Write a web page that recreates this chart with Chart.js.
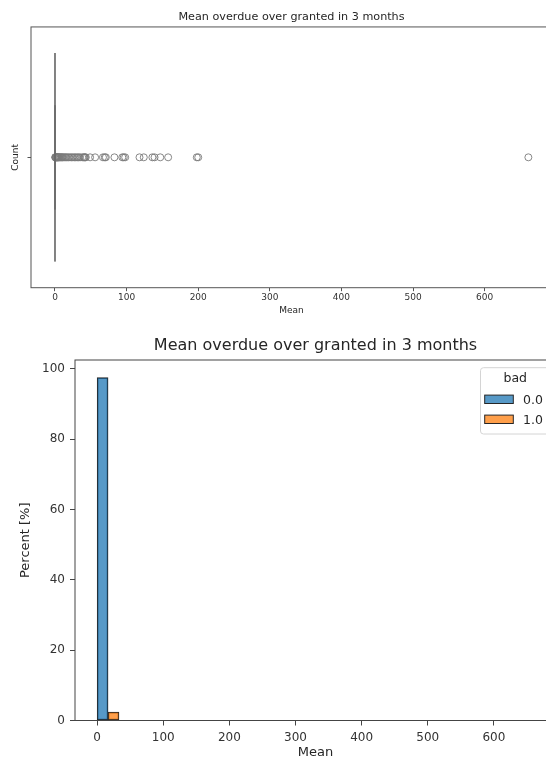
<!DOCTYPE html>
<html lang="en">
<head>
<meta charset="UTF-8">
<title>Mean overdue over granted in 3 months</title>
<script src="https://cdn.jsdelivr.net/npm/chart.js"></script>
<style>
  html, body { margin: 0; padding: 0; background: #fff; overflow: hidden; }
  body { width: 546px; height: 765px; position: relative; }
  #boxWrap { position: absolute; left: 0; top: 0; width: 560px; height: 320px; }
  #histWrap { position: absolute; left: 0; top: 320px; width: 564px; height: 445px; }
</style>
</head>
<body>
<div id="boxWrap"><canvas id="boxChart" width="560" height="320"></canvas></div>
<div id="histWrap"><canvas id="histChart" width="564" height="445"></canvas></div>
<script>
const chartTitle = 'Mean overdue over granted in 3 months';
const xTicks = [0, 100, 200, 300, 400, 500, 600];
const percentTicks = [0, 20, 40, 60, 80, 100];

// boxplot summary - quartiles and whiskers all collapse onto 0
const boxQ1 = 0, boxMedian = 0, boxQ3 = 0, whiskerLow = 0, whiskerHigh = 0;
const outliers = [0.3, 0.6, 0.9, 1.2, 1.6, 2, 2.5, 3, 3.5, 4, 4.6, 5.3, 6, 7, 8, 9, 10, 11,
  12.5, 14, 15.5, 17, 19, 21, 23, 25, 27, 29, 31, 33, 35, 38, 40, 41, 42, 43, 49, 56,
  67, 69.5, 71, 83, 94, 96, 98, 118, 124, 136, 139, 147, 158, 198, 200, 661];

// histogram (percent of all rows), dodged by "bad"
const binCenters = [16.5, 49.5, 82.5, 115.5, 148.5, 181.5, 214.5, 247.5, 280.5, 313.5,
  346.5, 379.5, 412.5, 445.5, 478.5, 511.5, 544.5, 577.5, 610.5, 643.5];
const pctBad0 = [97.5, 0, 0, 0, 0, 0, 0, 0, 0, 0, 0, 0, 0, 0, 0, 0, 0, 0, 0, 0];
const pctBad1 = [2.4, 0, 0, 0, 0, 0, 0, 0, 0, 0, 0, 0, 0, 0, 0, 0, 0, 0, 0, 0];
const hueTitle = 'bad';
const hueLabels = ['0.0', '1.0'];

Chart.defaults.font.family = '"DejaVu Sans", sans-serif';
Chart.defaults.color = '#333';
Chart.defaults.animation = false;

const textColor = '#262626';
const boxGray = '#6b6b6b';

// axes box drawn like matplotlib spines
const plotFrame = {
    id: 'plotFrame',
    afterDatasetsDraw(chart, args, opts) {
        const a = chart.chartArea, ctx = chart.ctx;
        ctx.save();
        ctx.strokeStyle = opts.color || '#444';
        ctx.lineWidth = 1;
        ctx.strokeRect(a.left, a.top, a.width, a.height);
        ctx.restore();
    }
};

// legend box in the top right corner of the plot
const hueLegend = {
    id: 'hueLegend',
    afterDraw(chart) {
        const ctx = chart.ctx, a = chart.chartArea;
        const left = a.right - 75.5, top = a.top + 7.7, w = 69.5, h = 66.3;
        ctx.save();
        ctx.beginPath();
        ctx.roundRect(left, top, w, h, 3);
        ctx.fillStyle = 'rgba(255,255,255,0.8)';
        ctx.fill();
        ctx.strokeStyle = '#d4d4d4';
        ctx.lineWidth = 1;
        ctx.stroke();
        ctx.font = '12.5px "DejaVu Sans"';
        ctx.fillStyle = textColor;
        ctx.textAlign = 'center';
        ctx.textBaseline = 'middle';
        ctx.fillText(hueTitle, left + w / 2, top + 11);
        chart.data.datasets.forEach((ds, i) => {
            const cy = top + 31.6 + i * 20;
            ctx.fillStyle = ds.backgroundColor;
            ctx.fillRect(left + 4.2, cy - 4.2, 28.6, 8.4);
            ctx.strokeStyle = ds.borderColor;
            ctx.strokeRect(left + 4.2, cy - 4.2, 28.6, 8.4);
            ctx.fillStyle = textColor;
            ctx.textAlign = 'left';
            ctx.fillText(ds.label, left + 42.5, cy + 1);
        });
        ctx.restore();
    }
};

function seg(x0, y0, x1, y1) {
    return [{x: x0, y: y0}, {x: x1, y: y1}];
}
const lineStyle = {
    showLine: true, borderColor: boxGray, borderWidth: 1.2,
    pointRadius: 0, fill: false
};

// ---- top: horizontal boxplot ----
new Chart(document.getElementById('boxChart'), {
    type: 'scatter',
    data: {
        datasets: [
            Object.assign({data: [
                {x: boxQ1, y: -0.4}, {x: boxQ3, y: -0.4}, {x: boxQ3, y: 0.4},
                {x: boxQ1, y: 0.4}, {x: boxQ1, y: -0.4}]}, lineStyle),
            Object.assign({data: seg(boxMedian, -0.4, boxMedian, 0.4)}, lineStyle),
            Object.assign({data: seg(whiskerLow, 0, boxQ1, 0)}, lineStyle),
            Object.assign({data: seg(boxQ3, 0, whiskerHigh, 0)}, lineStyle),
            Object.assign({data: seg(whiskerLow, -0.2, whiskerLow, 0.2)}, lineStyle),
            Object.assign({data: seg(whiskerHigh, -0.2, whiskerHigh, 0.2)}, lineStyle),
            {
                data: outliers.map(v => ({x: v, y: 0})),
                pointRadius: 3.5,
                pointBorderWidth: 0.9,
                pointBackgroundColor: 'rgba(0,0,0,0)',
                pointBorderColor: '#7a7a7a'
            }
        ]
    },
    options: {
        responsive: false,
        layout: {padding: {left: 0, right: 8, top: 0, bottom: 0}},
        plugins: {
            legend: {display: false},
            tooltip: {enabled: false},
            title: {
                display: true, text: chartTitle, fullSize: false, color: textColor,
                font: {size: 11.2, weight: 'normal'}, padding: {top: 10.1, bottom: 3.4}
            },
            plotFrame: {color: '#555'}
        },
        scales: {
            x: {
                type: 'linear', min: -33.5, max: 694,
                afterBuildTicks: s => { s.ticks = xTicks.map(v => ({value: v})); },
                afterFit: s => { s.height = 32.3; },
                ticks: {font: {size: 9}, padding: 1, maxRotation: 0},
                grid: {drawOnChartArea: false, tickLength: 3.5, tickColor: '#555'},
                border: {display: false},
                title: {display: true, text: 'Mean', color: textColor, font: {size: 9}, padding: {top: 0, bottom: 3.6}}
            },
            y: {
                type: 'linear', min: -0.5, max: 0.5,
                afterBuildTicks: s => { s.ticks = [{value: 0}]; },
                afterFit: s => { s.width = 31; },
                ticks: {callback: () => ''},
                grid: {drawOnChartArea: false, tickLength: 3.5, tickColor: '#555'},
                border: {display: false},
                title: {display: true, text: 'Count', color: textColor, font: {size: 9}, padding: {top: 10.3, bottom: 0}}
            }
        }
    },
    plugins: [plotFrame]
});

// ---- bottom: percent histogram split by "bad" ----
new Chart(document.getElementById('histChart'), {
    type: 'bar',
    data: {
        datasets: [
            {
                label: hueLabels[0],
                data: binCenters.map((x, i) => ({x: x, y: pctBad0[i]})),
                backgroundColor: 'rgba(31,119,180,0.75)',
                borderColor: '#262626', borderWidth: 1, borderSkipped: false,
                barPercentage: 1, categoryPercentage: 1
            },
            {
                label: hueLabels[1],
                data: binCenters.map((x, i) => ({x: x, y: pctBad1[i]})),
                backgroundColor: 'rgba(255,127,14,0.75)',
                borderColor: '#262626', borderWidth: 1, borderSkipped: false,
                barPercentage: 1, categoryPercentage: 1
            }
        ]
    },
    options: {
        responsive: false,
        layout: {padding: {left: 0, right: 8, top: 0, bottom: 0}},
        plugins: {
            legend: {display: false},
            tooltip: {enabled: false},
            title: {
                display: true, text: chartTitle, fullSize: false, color: textColor,
                font: {size: 16, weight: 'normal'}, padding: {top: 16.4, bottom: 4.4}
            },
            plotFrame: {color: '#444'}
        },
        scales: {
            x: {
                type: 'linear', min: -33.5, max: 694, offset: false,
                afterBuildTicks: s => { s.ticks = xTicks.map(v => ({value: v})); },
                afterFit: s => { s.height = 44.5; },
                ticks: {font: {size: 12}, padding: 5, maxRotation: 0},
                grid: {offset: false, drawOnChartArea: false, tickLength: 5, tickColor: '#444'},
                border: {display: false},
                title: {display: true, text: 'Mean', color: textColor, font: {size: 13}, padding: {top: 0, bottom: 4.2}}
            },
            y: {
                type: 'linear', min: 0, max: 102.5,
                afterBuildTicks: s => { s.ticks = percentTicks.map(v => ({value: v})); },
                afterFit: s => { s.width = 75; },
                ticks: {font: {size: 12}, padding: 5},
                grid: {drawOnChartArea: false, tickLength: 5, tickColor: '#444'},
                border: {display: false},
                title: {display: true, text: 'Percent [%]', color: textColor, font: {size: 13}, padding: {top: 18.2, bottom: 0}}
            }
        }
    },
    plugins: [plotFrame, hueLegend]
});
</script>
</body>
</html>
